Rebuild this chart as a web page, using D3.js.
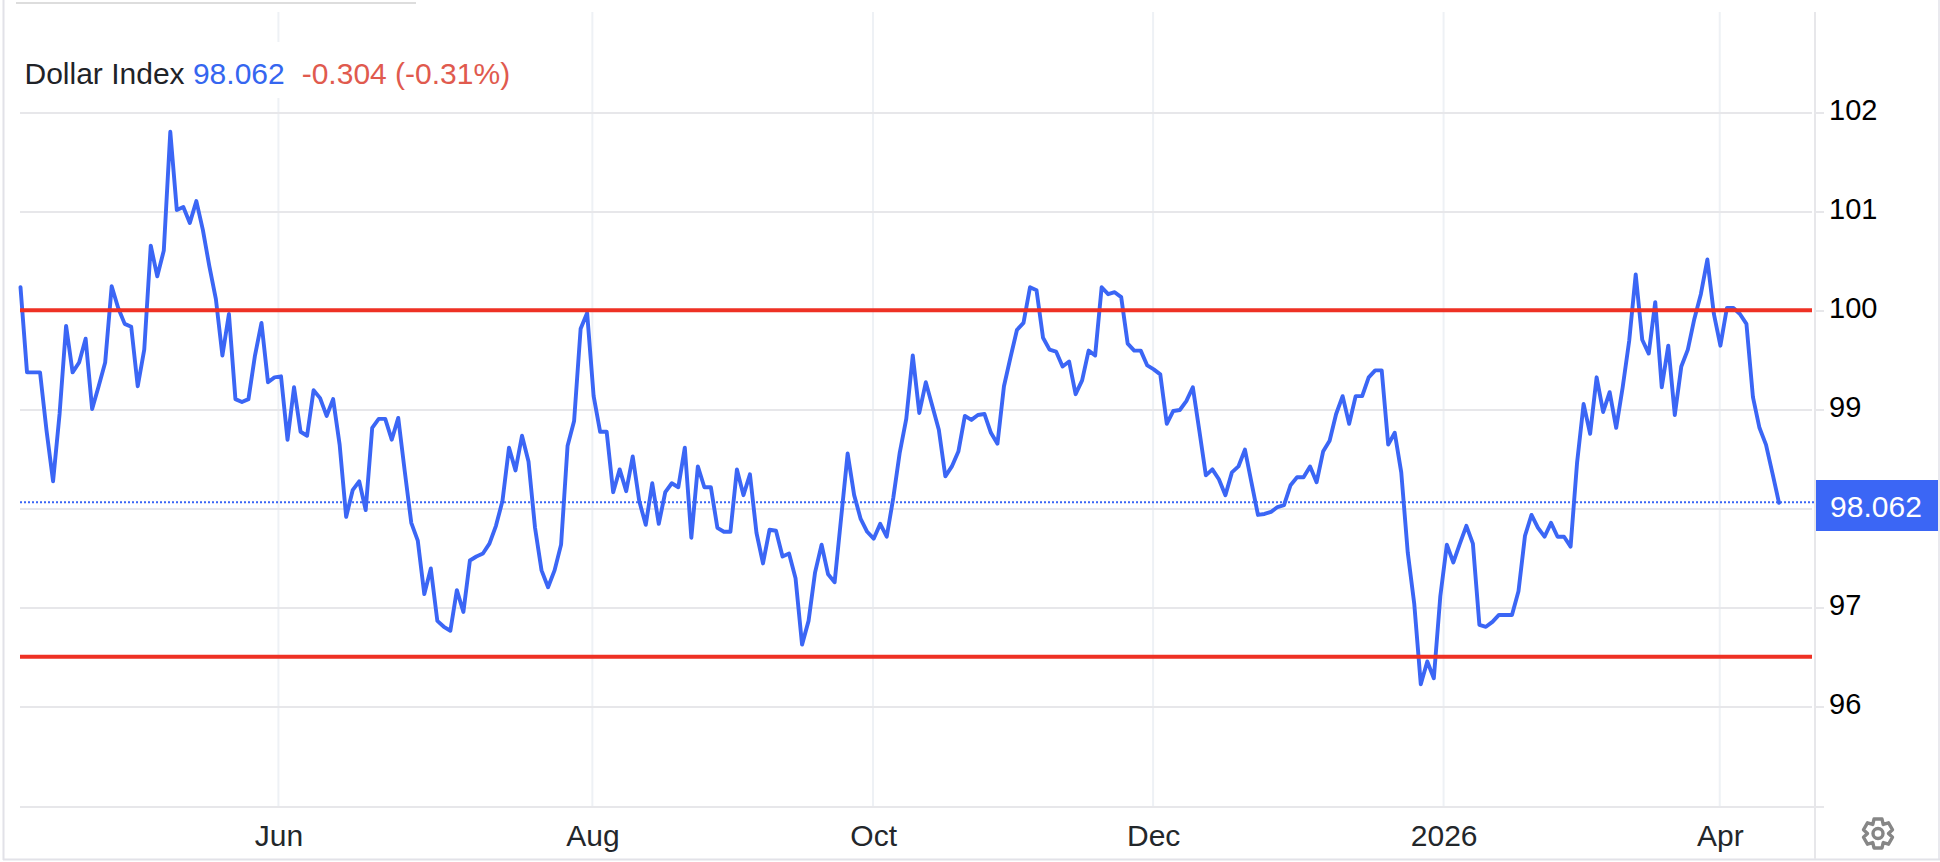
<!DOCTYPE html>
<html><head><meta charset="utf-8">
<style>html,body{margin:0;padding:0;background:#fff;overflow:hidden}svg{display:block}text{font-family:"Liberation Sans",Arial,sans-serif}</style>
<script src="https://cdn.jsdelivr.net/npm/d3@7/dist/d3.min.js"></script>
</head><body><svg id="c" width="1940" height="862"></svg>
<script>
const seriesName = "Dollar Index";
const lastText = "98.062";
const lastValue = 98.062;
const changeText = "-0.304 (-0.31%)";
const yTicks = [96,97,98,99,100,101,102];
const yTickLabels = [96,97,99,100,101,102];
const levels = [100,96.5];
const monthLabels = ["Jun","Aug","Oct","Dec","2026","Apr"];
const monthIndex = [39.6,87.8,130.9,173.9,218.5,260.9];
const values = [
100.24,99.38,99.38,99.38,98.79,98.28,98.96,99.85,99.38,99.48,99.72,99.01,99.24,99.48,100.25,100.03,99.87,99.84,99.24,99.61,
100.66,100.35,100.61,101.81,101.02,101.05,100.89,101.11,100.82,100.45,100.12,99.55,99.97,99.11,99.08,99.11,99.55,99.88,99.28,99.33,
99.34,98.70,99.23,98.78,98.74,99.20,99.12,98.94,99.11,98.65,97.92,98.19,98.28,97.99,98.82,98.91,98.91,98.70,98.92,98.38,
97.86,97.68,97.14,97.40,96.87,96.81,96.77,97.18,96.96,97.48,97.52,97.55,97.65,97.83,98.08,98.62,98.39,98.74,98.48,97.81,
97.38,97.21,97.38,97.64,98.64,98.89,99.82,99.98,99.14,98.78,98.78,98.17,98.40,98.18,98.53,98.08,97.84,98.26,97.85,98.17,
98.26,98.22,98.62,97.71,98.43,98.22,98.22,97.81,97.77,97.77,98.40,98.14,98.35,97.76,97.45,97.79,97.78,97.52,97.55,97.30,
96.63,96.87,97.36,97.64,97.34,97.26,97.91,98.56,98.14,97.90,97.77,97.70,97.85,97.72,98.11,98.57,98.91,99.55,98.97,99.28,
99.04,98.80,98.33,98.43,98.58,98.94,98.90,98.95,98.96,98.77,98.66,99.24,99.53,99.81,99.88,100.24,100.21,99.73,99.61,99.59,
99.44,99.49,99.16,99.30,99.60,99.55,100.24,100.17,100.19,100.14,99.67,99.60,99.60,99.45,99.41,99.36,98.86,98.99,99.00,99.09,
99.23,98.79,98.34,98.40,98.30,98.14,98.37,98.43,98.60,98.27,97.94,97.95,97.97,98.02,98.04,98.24,98.32,98.32,98.43,98.27,
98.58,98.69,98.96,99.14,98.86,99.14,99.14,99.33,99.40,99.40,98.65,98.77,98.37,97.56,97.04,96.23,96.46,96.29,97.12,97.64,
97.46,97.65,97.83,97.65,96.83,96.81,96.86,96.93,96.93,96.93,97.17,97.73,97.94,97.81,97.72,97.86,97.72,97.72,97.62,98.47,
99.06,98.76,99.33,98.98,99.18,98.82,99.23,99.70,100.37,99.71,99.57,100.09,99.23,99.65,98.95,99.44,99.61,99.92,100.17,100.52,
99.97,99.65,100.03,100.03,99.97,99.87,99.13,98.82,98.65,98.36,98.062];

const svg = d3.select("#c");
const x = d3.scaleLinear().domain([0, values.length-1]).range([20.5,1779]);
const y = d3.scaleLinear().domain([96,102]).range([707,113]);
const plotL = 20, plotR = 1812, axisX = 1815, plotB = 807, plotT = 12;
const grid = "#e7e7ea", vgrid = "#eef1f5", border = "#e2e2e8";
const blue = "#3b66f5";

// outer frame
svg.append("line").attr("x1",16).attr("x2",416).attr("y1",3).attr("y2",3).attr("stroke","#dddddd").attr("stroke-width",2);
svg.append("line").attr("x1",3.5).attr("x2",3.5).attr("y1",0).attr("y2",860).attr("stroke",border).attr("stroke-width",2);
svg.append("line").attr("x1",3).attr("x2",1940).attr("y1",859.5).attr("y2",859.5).attr("stroke",border).attr("stroke-width",2);
svg.append("line").attr("x1",1939).attr("x2",1939).attr("y1",0).attr("y2",860).attr("stroke",border).attr("stroke-width",1.5);

// month grid
svg.append("g").selectAll("line").data(monthIndex).join("line")
  .attr("x1",d=>x(d)).attr("x2",d=>x(d)).attr("y1",plotT).attr("y2",plotB)
  .attr("stroke",vgrid).attr("stroke-width",2);

// horizontal grid + ticks
const yG = svg.append("g");
yG.selectAll("line.g").data(yTicks).join("line").attr("class","g")
  .attr("x1",plotL).attr("x2",plotR).attr("y1",d=>y(d)).attr("y2",d=>y(d))
  .attr("stroke",grid).attr("stroke-width",2);
yG.selectAll("line.t").data(yTicks).join("line").attr("class","t")
  .attr("x1",axisX).attr("x2",1824).attr("y1",d=>y(d)).attr("y2",d=>y(d))
  .attr("stroke",grid).attr("stroke-width",2);
yG.selectAll("text").data(yTickLabels).join("text")
  .attr("x",1829).attr("y",d=>y(d)+7).attr("font-size",29).attr("fill","#000").text(d=>d);

// x axis line and y axis line
svg.append("line").attr("x1",plotL).attr("x2",1824).attr("y1",plotB).attr("y2",plotB).attr("stroke",grid).attr("stroke-width",2);
svg.append("line").attr("x1",axisX).attr("x2",axisX).attr("y1",plotT).attr("y2",859).attr("stroke",grid).attr("stroke-width",2);

// month labels
svg.append("g").selectAll("text").data(monthLabels).join("text")
  .attr("x",(d,i)=>x(monthIndex[i])+0.6).attr("y",845.5).attr("text-anchor","middle")
  .attr("font-size",30).attr("fill","#23272b").text(d=>d);

// last value dotted line
svg.append("line").attr("x1",plotL).attr("x2",axisX).attr("y1",y(lastValue)-0.5).attr("y2",y(lastValue)-0.5)
  .attr("stroke",blue).attr("stroke-width",2).attr("stroke-dasharray","2 2");

// series
const line = d3.line().x((d,i)=>x(i)).y(d=>y(d));
svg.append("path").datum(values).attr("d",line).attr("fill","none").attr("stroke",blue)
  .attr("stroke-width",3.9).attr("stroke-linejoin","round").attr("stroke-linecap","round");

// horizontal levels
svg.append("g").selectAll("line").data(levels).join("line")
  .attr("x1",plotL).attr("x2",plotR).attr("y1",d=>y(d)-0.8).attr("y2",d=>y(d)-0.8)
  .attr("stroke","#ee3124").attr("stroke-width",4);

// legend
svg.append("rect").attr("x",20).attr("y",42).attr("width",500).attr("height",56).attr("fill","#fff");
const leg = svg.append("text").attr("x",24.5).attr("y",84).attr("font-size",30);
leg.append("tspan").attr("fill","#1f2328").text(seriesName+" ");
leg.append("tspan").attr("fill","#3566f0").text(lastText);
leg.append("tspan").attr("fill","#e05a4e").attr("dx",17).text(changeText);

// last value tag
svg.append("rect").attr("x",1816).attr("y",480).attr("width",122).attr("height",51).attr("fill",blue);
svg.append("text").attr("x",1876).attr("y",517).attr("text-anchor","middle").attr("font-size",30).attr("fill","#fff").text(lastText);

// gear icon
const gear = svg.append("g").attr("transform","translate(1878,833.5)").attr("fill","none").attr("stroke","#868686").attr("stroke-width",3.4).attr("stroke-linejoin","round");
const gearPts = [];
d3.range(6).forEach(k=>{
  const a = k*Math.PI/3 - Math.PI/2;
  [[-0.52,10.5],[-0.27,15],[0.27,15],[0.52,10.5]].forEach(([da,r])=>gearPts.push([r*Math.cos(a+da),r*Math.sin(a+da)]));
});
gear.append("path").attr("d",d3.line().curve(d3.curveLinearClosed)(gearPts));
gear.append("circle").attr("r",5);
</script></body></html>
